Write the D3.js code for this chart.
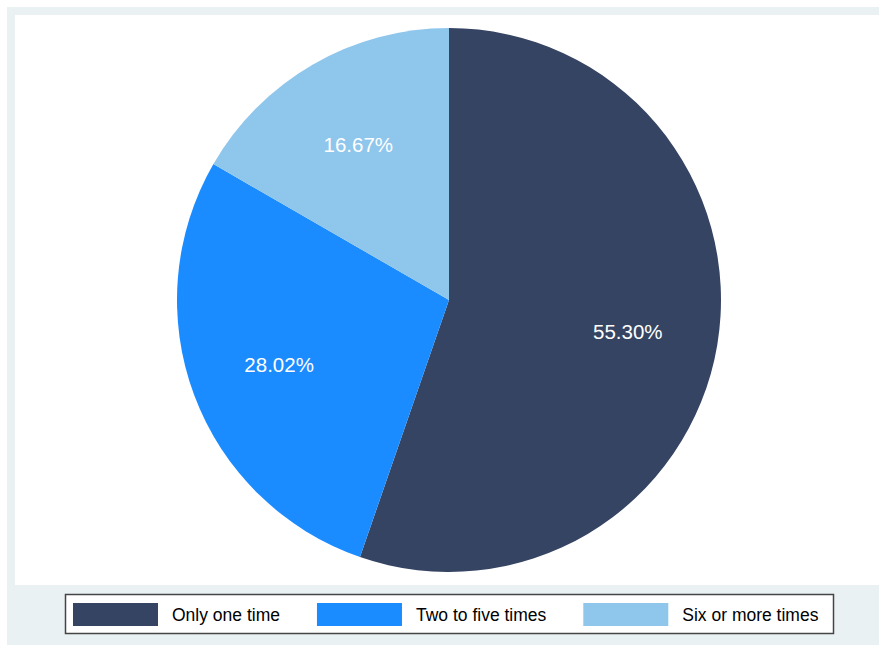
<!DOCTYPE html>
<html>

<head>
  <meta charset="UTF-8">
  <title>Pie chart</title>
  <script src="https://d3js.org/d3.v7.min.js"></script>
  <style>
    body {
      margin: 0;
      background: #fff;
    }

    text {
      font-family: "Liberation Sans", Arial, Helvetica, sans-serif;
    }
  </style>
</head>

<body>
  <svg></svg>
</body>

<script>
  let width = 879,
    height = 646;

  // data
  let categories = ["Only one time", "Two to five times", "Six or more times"];
  let values = [55.30, 28.02, 16.67];
  let labels = ["55.30%", "28.02%", "16.67%"];

  let svg = d3.select("svg")
    .attr("width", width)
    .attr("height", height);

  // outer graph region + inner plot region
  svg.append("rect")
    .attr("x", 7).attr("y", 7)
    .attr("width", width - 7).attr("height", height - 8)
    .attr("fill", "#eaf1f3");

  svg.append("rect")
    .attr("x", 15).attr("y", 15)
    .attr("width", width - 15).attr("height", 570)
    .attr("fill", "#fff");

  let color = d3.scaleOrdinal()
    .domain(categories)
    .range(["#354462", "#1a8cff", "#8fc6ec"]);

  let cx = 449,
    cy = 300,
    r = 272;

  let pie = d3.pie()
    .sort(null)
    .value(d => d.value);

  let arcs = pie(categories.map((c, i) => ({ cat: c, value: values[i], label: labels[i] })));

  let arc = d3.arc().innerRadius(0).outerRadius(r);
  let labelArc = d3.arc().innerRadius(r * 2 / 3).outerRadius(r * 2 / 3);

  let g = svg.append("g")
    .attr("transform", "translate(" + cx + "," + cy + ")");

  g.selectAll("path")
    .data(arcs)
    .enter()
    .append("path")
    .attr("d", arc)
    .attr("fill", d => color(d.data.cat));

  g.selectAll("text")
    .data(arcs)
    .enter()
    .append("text")
    .attr("transform", d => "translate(" + labelArc.centroid(d) + ")")
    .attr("text-anchor", "middle")
    .attr("dy", "0.42em")
    .attr("fill", "#fff")
    .style("font-size", "20.5px")
    .text(d => d.data.label);

  // legend
  let legend = svg.append("g");

  legend.append("rect")
    .attr("x", 65.5).attr("y", 594.5)
    .attr("width", 768).attr("height", 39)
    .attr("fill", "#fff")
    .attr("stroke", "#444")
    .attr("stroke-width", 1.5);

  let lx = 73;
  categories.forEach((c, i) => {
    legend.append("rect")
      .attr("x", lx).attr("y", 603)
      .attr("width", 85).attr("height", 23)
      .attr("fill", color(c));
    let t = legend.append("text")
      .attr("x", lx + 99).attr("y", 620.5)
      .attr("fill", "#000")
      .style("font-size", "17.5px")
      .text(c);
    lx += 99 + t.node().getComputedTextLength() + 37;
  });
</script>

</html>
